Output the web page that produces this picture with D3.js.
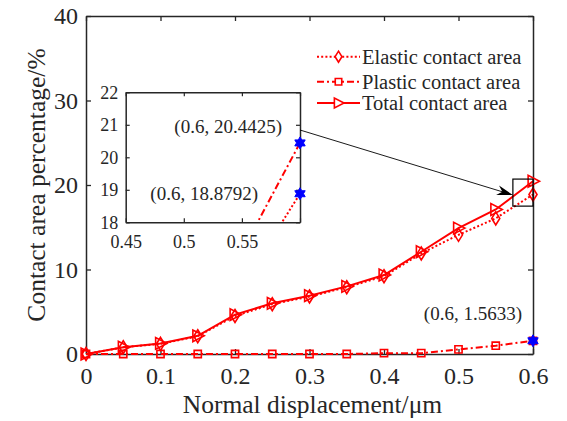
<!DOCTYPE html>
<html><head><meta charset="utf-8">
<script src="https://cdn.jsdelivr.net/npm/d3@7"></script>
<style>
body{margin:0;background:#fff}
svg{display:block}
text{font-family:"Liberation Serif","Times New Roman",serif;fill:#262626}
</style>
</head><body>
<svg id="c" width="567" height="421"></svg>
<script>
// ---- data ----
const xValues = [0, 0.05, 0.1, 0.15, 0.2, 0.25, 0.3, 0.35, 0.4, 0.45, 0.5, 0.55, 0.6];
const elastic = [0, 0.8, 1.2, 2.1, 4.5, 5.9, 6.8, 7.9, 9.2, 11.9, 14.1, 16.05, 18.8792];
const plastic = [0, 0, 0, 0, 0, 0, 0, 0, 0.1, 0.1, 0.55, 0.98, 1.5633];
const total   = [0, 0.8, 1.25, 2.15, 4.65, 6.0, 6.9, 8.0, 9.35, 12.1, 14.9, 17.1, 20.4425];
const seriesNames = ["Elastic contact area", "Plastic contact area", "Total contact area"];
const xTicks = [0, 0.1, 0.2, 0.3, 0.4, 0.5, 0.6];
const yTicks = [0, 10, 20, 30, 40];
const insetXTicks = [0.45, 0.5, 0.55, 0.6];
const insetXTickLabels = ["0.45", "0.5", "0.55", ""];
const insetYTicks = [18, 19, 20, 21, 22];
const xLabel = "Normal displacement/\u03bcm";
const yLabel = "Contact area percentage/%";
const annotations = [
  {x: 0.6, y: 20.4425, label: "(0.6, 20.4425)"},
  {x: 0.6, y: 18.8792, label: "(0.6, 18.8792)"},
  {x: 0.6, y: 1.5633,  label: "(0.6, 1.5633)"}
];
const zoomBox = {x0: 0.573, x1: 0.6, y0: 17.5, y1: 20.7};

// ---- setup ----
const svg = d3.select("#c");
const RED = "#ff0000", AX = "#262626";
const L = 86, R = 533, T = 16, B = 354;
const x = d3.scaleLinear().domain([0, 0.6]).range([L, R]);
const y = d3.scaleLinear().domain([0, 40]).range([B, T]);

const series = [
  {name: seriesNames[0], vals: elastic, dash: "2,2.2", marker: "diamond", insetDash: "2,2.2"},
  {name: seriesNames[1], vals: plastic, dash: "7,3,2,3", marker: "square", insetDash: "7,3,2,3"},
  {name: seriesNames[2], vals: total, dash: null, marker: "triangle", insetDash: "7,3,2,3"}
];

function markerPath(type, s) {
  if (type === "diamond") return `M0,${-s}L${s*0.62},0L0,${s}L${-s*0.62},0Z`;
  if (type === "square") return `M${-s*0.72},${-s*0.72}H${s*0.72}V${s*0.72}H${-s*0.72}Z`;
  if (type === "triangle") return `M${s},0L${-s*0.75},${-s*0.9}L${-s*0.75},${s*0.9}Z`;
}
function hexagram(r) {
  const pts = [];
  for (let i = 0; i < 12; i++) {
    const a = -Math.PI/2 + i*Math.PI/6;
    const rr = i % 2 === 0 ? r : r/Math.sqrt(3);
    pts.push([rr*Math.cos(a), rr*Math.sin(a)]);
  }
  return "M" + pts.map(p => p.join(",")).join("L") + "Z";
}

// ---- main axes ----
const gx = svg.append("g").attr("transform", `translate(0,${B})`)
  .call(d3.axisBottom(x).tickValues(xTicks).tickSizeInner(-5).tickSizeOuter(0).tickPadding(12.5).tickFormat(d3.format("")));
const gy = svg.append("g").attr("transform", `translate(${L},0)`)
  .call(d3.axisLeft(y).tickValues(yTicks).tickSizeInner(-5).tickSizeOuter(0).tickPadding(8));
const gt = svg.append("g").attr("transform", `translate(0,${T})`)
  .call(d3.axisTop(x).tickValues(xTicks).tickSizeInner(-5).tickSizeOuter(0).tickFormat(""));
const gr = svg.append("g").attr("transform", `translate(${R},0)`)
  .call(d3.axisRight(y).tickValues(yTicks).tickSizeInner(-5).tickSizeOuter(0).tickFormat(""));
[gx, gy, gt, gr].forEach(g => {
  g.attr("font-family", null).attr("font-size", null);
  g.selectAll("path.domain").attr("stroke", AX).attr("stroke-width", 1.5);
  g.selectAll("line").attr("stroke", AX).attr("stroke-width", 1.3);
  g.selectAll("text").style("font-size", "24px").attr("fill", AX)
    .style("font-family", '"Liberation Serif",serif');
});

svg.append("text").attr("x", (L+R)/2 + 3).attr("y", 413).attr("text-anchor", "middle")
  .style("font-size", "25.5px").text(xLabel);
svg.append("text").attr("transform", `translate(45,185) rotate(-90)`).attr("text-anchor", "middle")
  .style("font-size", "25.5px").text(yLabel);

// ---- main series ----
const line = d3.line().x((d, i) => x(xValues[i])).y(d => y(d));
series.forEach(s => {
  svg.append("path").datum(s.vals).attr("d", line).attr("fill", "none")
    .attr("stroke", RED).attr("stroke-width", 2).attr("stroke-dasharray", s.dash);
  svg.append("g").selectAll("path").data(s.vals).join("path")
    .attr("transform", (d, i) => `translate(${x(xValues[i])},${y(d)})`)
    .attr("d", markerPath(s.marker, s.marker === "square" ? 5 : 6.5))
    .attr("fill", "none").attr("stroke", RED).attr("stroke-width", 1.6);
});
// blue marker for plastic end
svg.append("path").attr("transform", `translate(${x(annotations[2].x)},${y(annotations[2].y)})`)
  .attr("d", hexagram(6)).attr("fill", "#0000ff").attr("stroke", "#0000ff").attr("stroke-width", 1);
svg.append("text").attr("x", x(annotations[2].x) - 11).attr("y", y(annotations[2].y) - 21)
  .attr("text-anchor", "end").style("font-size", "19px").text(annotations[2].label);

// zoom box
svg.append("rect").attr("x", x(zoomBox.x0)).attr("y", y(zoomBox.y1))
  .attr("width", x(zoomBox.x1) - x(zoomBox.x0)).attr("height", y(zoomBox.y0) - y(zoomBox.y1))
  .attr("fill", "none").attr("stroke", "#000").attr("stroke-width", 1.2);

// ---- legend ----
const lg = svg.append("g");
const legY = [56.7, 81.7, 103];
series.forEach((s, i) => {
  lg.append("line").attr("x1", 317).attr("x2", 360).attr("y1", legY[i]).attr("y2", legY[i])
    .attr("stroke", RED).attr("stroke-width", 2).attr("stroke-dasharray", s.dash);
  lg.append("path").attr("transform", `translate(338.5,${legY[i]})`)
    .attr("d", markerPath(s.marker, s.marker === "square" ? 4.5 : 5.5))
    .attr("fill", "#fff").attr("stroke", RED).attr("stroke-width", 1.6);
  lg.append("text").attr("x", 362).attr("y", legY[i] + 7).style("font-size", "20.5px").text(s.name);
});

// ---- inset ----
const iL = 125.7, iR = 300, iT = 92.3, iB = 222.3;
const ix = d3.scaleLinear().domain([0.45, 0.6]).range([iL, iR]);
const iy = d3.scaleLinear().domain([18, 22]).range([iB, iT]);
svg.append("rect").attr("x", iL).attr("y", iT).attr("width", iR - iL).attr("height", iB - iT).attr("fill", "#fff");
svg.append("clipPath").attr("id", "ic").append("rect")
  .attr("x", iL).attr("y", iT).attr("width", iR - iL).attr("height", iB - iT);
const iline = d3.line().x((d, i) => ix(xValues[i])).y(d => iy(d));
const ig = svg.append("g").attr("clip-path", "url(#ic)");
[series[0], series[2]].forEach(s => {
  ig.append("path").datum(s.vals).attr("d", iline).attr("fill", "none")
    .attr("stroke", RED).attr("stroke-width", 2).attr("stroke-dasharray", s.insetDash);
});
const igx = svg.append("g").attr("transform", `translate(0,${iB})`)
  .call(d3.axisBottom(ix).tickValues(insetXTicks).tickSizeInner(-4).tickSizeOuter(0).tickPadding(12.5)
    .tickFormat((d, i) => insetXTickLabels[i]));
const igy = svg.append("g").attr("transform", `translate(${iL},0)`)
  .call(d3.axisLeft(iy).tickValues(insetYTicks).tickSizeInner(-4).tickSizeOuter(0).tickPadding(7.5)
    .tickFormat(d3.format("d")));
const igt = svg.append("g").attr("transform", `translate(0,${iT})`)
  .call(d3.axisTop(ix).tickValues(insetXTicks).tickSizeInner(-4).tickSizeOuter(0).tickFormat(""));
const igr = svg.append("g").attr("transform", `translate(${iR},0)`)
  .call(d3.axisRight(iy).tickValues(insetYTicks).tickSizeInner(-4).tickSizeOuter(0).tickFormat(""));
[igx, igy, igt, igr].forEach(g => {
  g.attr("font-family", null).attr("font-size", null);
  g.selectAll("path.domain").attr("stroke", AX).attr("stroke-width", 1.5);
  g.selectAll("line").attr("stroke", AX).attr("stroke-width", 1.2);
  g.selectAll("text").style("font-size", "18px").attr("fill", AX)
    .style("font-family", '"Liberation Serif",serif');
});
// inset markers + labels
const insetLabelOffsets = [{dx: -18, dy: -10}, {dx: -42, dy: 6}];
[annotations[0], annotations[1]].forEach((a, i) => {
  svg.append("path").attr("transform", `translate(${ix(a.x)},${iy(a.y)})`)
    .attr("d", hexagram(6)).attr("fill", "#0000ff").attr("stroke", "#0000ff").attr("stroke-width", 1);
  svg.append("text").attr("x", ix(a.x) + insetLabelOffsets[i].dx).attr("y", iy(a.y) + insetLabelOffsets[i].dy)
    .attr("text-anchor", "end").style("font-size", "19px").text(a.label);
});

// ---- arrow ----
const ax0 = iR, ay0 = 130, ax1 = x(zoomBox.x0), ay1 = 195;
const ang = Math.atan2(ay1 - ay0, ax1 - ax0);
const hl = 13, hw = 5;
const bx = ax1 - hl*Math.cos(ang), by = ay1 - hl*Math.sin(ang);
svg.append("line").attr("x1", ax0).attr("y1", ay0).attr("x2", bx + 3*Math.cos(ang)).attr("y2", by + 3*Math.sin(ang))
  .attr("stroke", "#000").attr("stroke-width", 0.9);
const nx = -Math.sin(ang), ny = Math.cos(ang);
const back = 3;
svg.append("path").attr("d",
  `M${ax1},${ay1}L${bx + nx*hw - back*Math.cos(ang)},${by + ny*hw - back*Math.sin(ang)}` +
  `L${bx + 2*Math.cos(ang)},${by + 2*Math.sin(ang)}` +
  `L${bx - nx*hw - back*Math.cos(ang)},${by - ny*hw - back*Math.sin(ang)}Z`)
  .attr("fill", "#000");
</script>
</body></html>
